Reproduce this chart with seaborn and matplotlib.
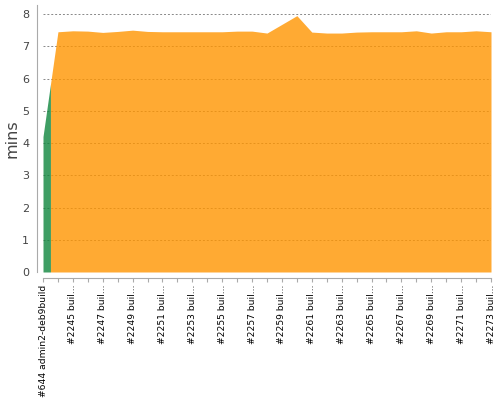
#!/usr/bin/python3

import numpy as np
import seaborn as sns
import matplotlib.pyplot as plt

# build names as shown on the axis (odd ones are hidden)
builds = ["#644 admin2-deb9build"] + ["#%d buil..." % n for n in range(2244, 2274)]
# duration in minutes
durations = [4.2, 7.45, 7.48, 7.47, 7.43, 7.46, 7.50, 7.46, 7.45, 7.45,
             7.45, 7.45, 7.45, 7.47, 7.47, 7.41, 7.68, 7.95, 7.44, 7.41,
             7.41, 7.44, 7.45, 7.45, 7.45, 7.48, 7.41, 7.45, 7.45, 7.48, 7.45]
results = ["SUCCESS"] + ["UNSTABLE"] * 30

colors = {"SUCCESS": "#0f863d", "UNSTABLE": "#ff9500"}


def main():
    sns.set_style("white")
    fig = plt.figure(figsize=(5, 4), dpi=100)
    ax = fig.add_axes([0.086, 0.32, 0.896, 0.6675])

    n = len(durations)
    x = np.arange(n)
    d = np.array(durations)

    # each build fills from the half-way point before it to the one after it;
    # builds with the same result next to each other share one polygon
    runs = []
    for i in range(n):
        xs = [max(i - 0.5, 0), i, min(i + 0.5, n - 1)]
        left = (d[i - 1] + d[i]) / 2 if i > 0 else d[i]
        right = (d[i + 1] + d[i]) / 2 if i < n - 1 else d[i]
        ys = [left, d[i], right]
        if runs and runs[-1][0] == results[i]:
            runs[-1][1].extend(xs[1:])
            runs[-1][2].extend(ys[1:])
        else:
            runs.append([results[i], xs, ys])
    for res, xs, ys in runs:
        ax.fill_between(xs, 0, ys, color=colors[res], alpha=0.8,
                        lw=0, zorder=2)

    ax.set_xlim(0, n - 1)
    ax.set_ylim(0, 8.28)
    ax.set_yticks(range(0, 9))
    ax.yaxis.grid(True, color="#888888", linestyle=(0, (2, 2)), lw=0.7)
    ax.set_axisbelow(True)

    ax.set_xticks(x)
    ax.tick_params(axis="x", length=3, width=0.8, color="#aaaaaa", pad=2,
                   bottom=True, labelrotation=90, labelsize=6.6,
                   labelcolor="black")
    ax.set_xticklabels([b if i % 2 == 0 else "" for i, b in enumerate(builds)])
    ax.tick_params(axis="y", length=0, labelsize=8, labelcolor="#444444", pad=6)
    ax.set_ylabel("mins", fontsize=11.5, color="#444444", labelpad=2)

    sns.despine(ax=ax, offset=4)
    for s in ("left", "bottom"):
        ax.spines[s].set_color("#aaaaaa")
        ax.spines[s].set_linewidth(0.8)

    fig.savefig("out.png", dpi=100)


if __name__ == '__main__':
    main()
